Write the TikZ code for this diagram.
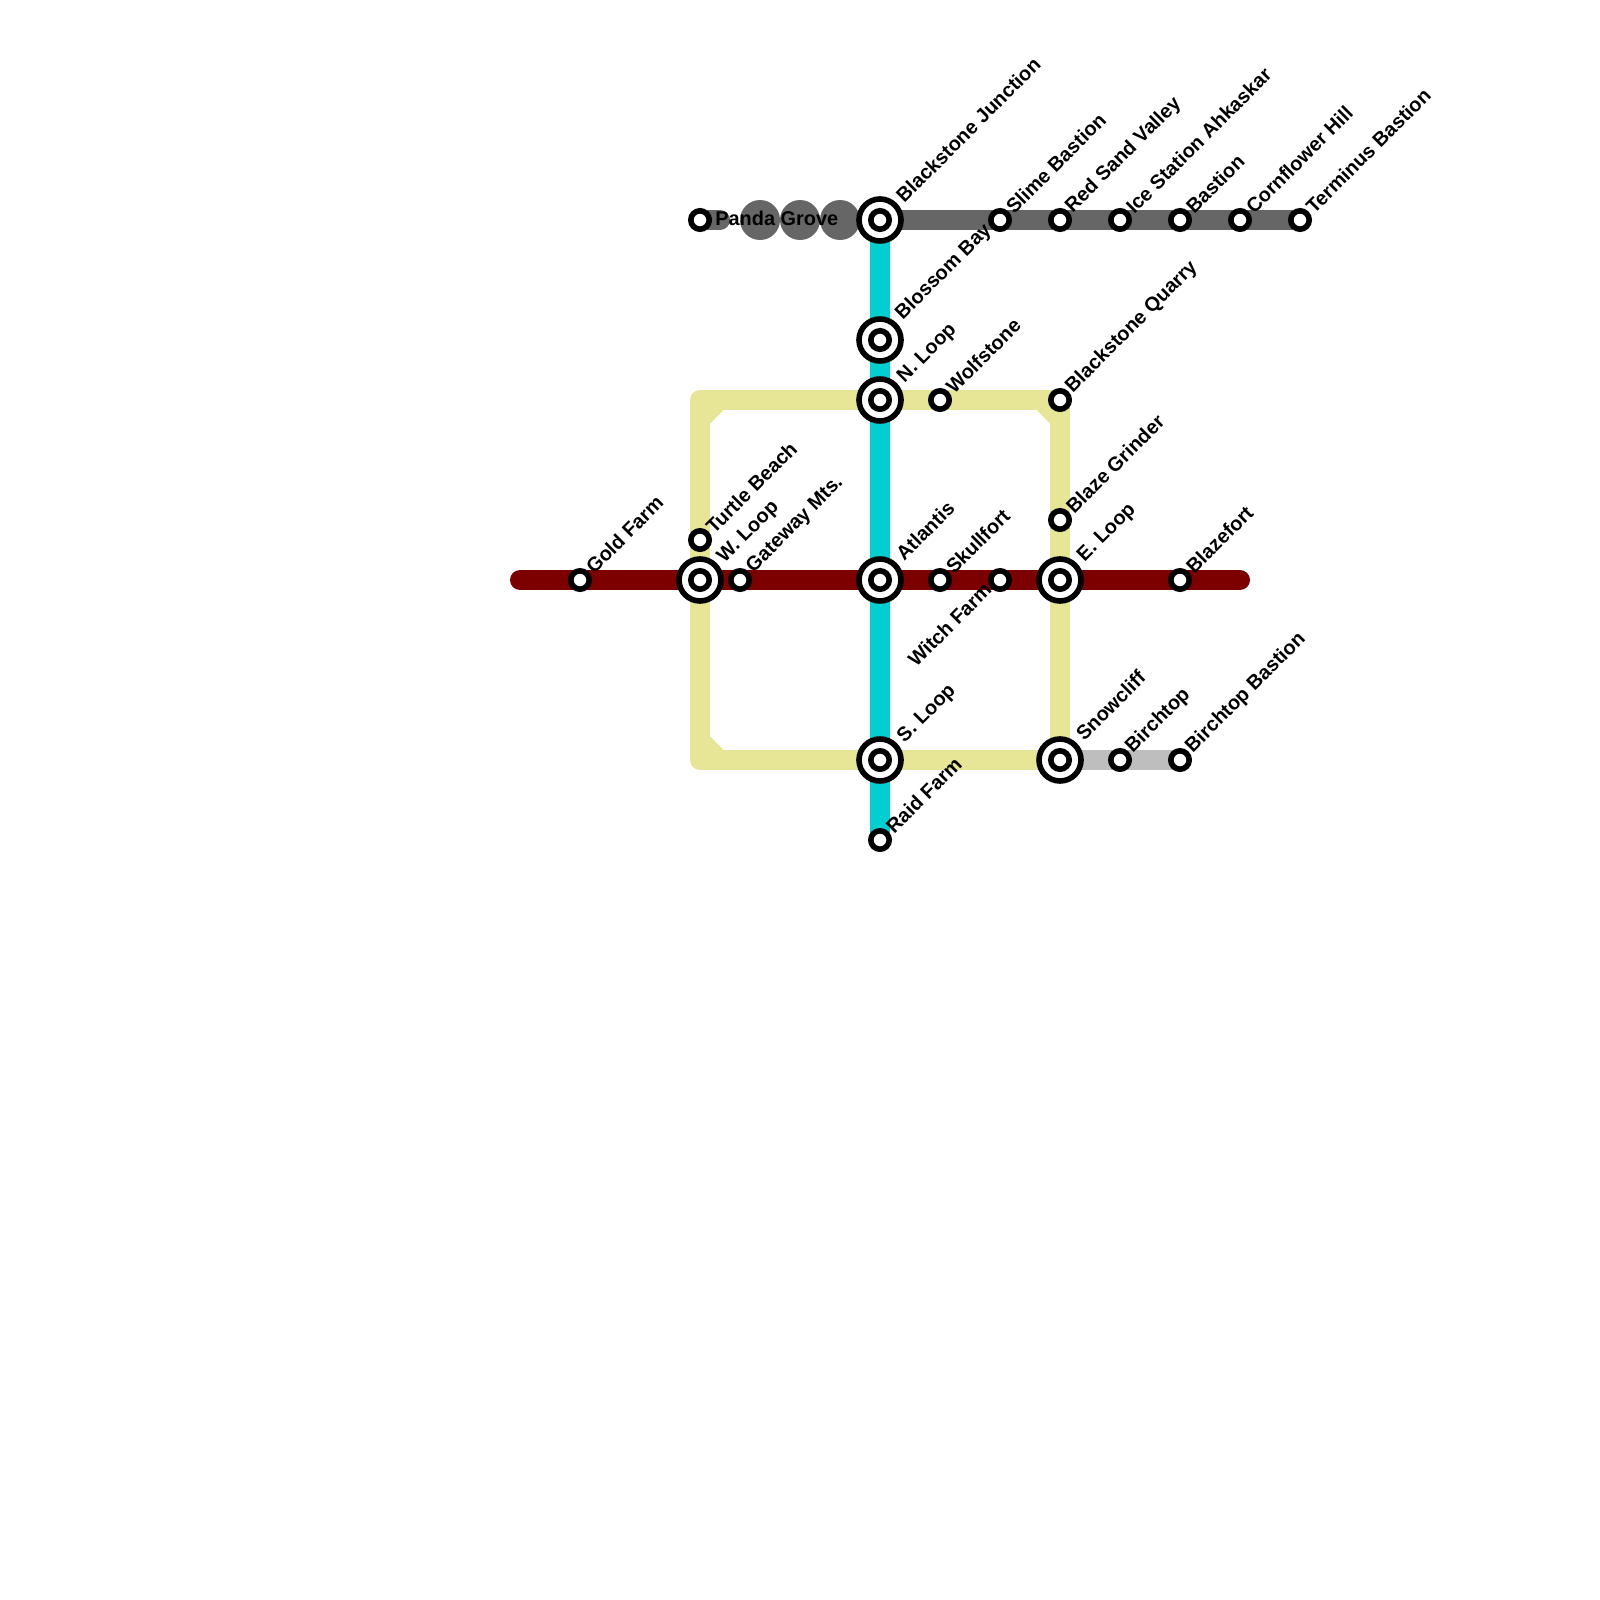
\documentclass[tikz,border=0pt]{standalone}
\usepackage{fontspec}
\setmainfont{Liberation Sans}
\definecolor{lgray}{HTML}{666666}
\definecolor{lteal}{HTML}{00CED1}
\definecolor{lred}{HTML}{7D0000}
\definecolor{lkhaki}{HTML}{E6E696}
\definecolor{lsilver}{HTML}{BEBEBE}
\tikzset{
 x=0.5pt,y=-0.5pt,
 metro/.style={line width=10pt,line cap=butt},
 small/.style={circle,draw=black,fill=white,line width=2.8pt,minimum size=9.2pt,inner sep=0pt},
 big/.style={circle,draw=black,fill=white,line width=2.8pt,minimum size=21pt,inner sep=0pt},
 lab/.style={rotate=45,anchor=west,inner sep=0pt,font=\fontsize{9.95}{11}\selectfont\bfseries},
 dot/.style={circle,fill=lgray,minimum size=20pt,inner sep=0pt},
}
\begin{document}
\begin{tikzpicture}
\useasboundingbox (0,0) rectangle (1600,1600);
\fill[white] (0,0) rectangle (1600,1600);
% coordinates
\foreach \n/\x/\y in {pa/700/220,bj/880/220,sb/1000/220,rs/1060/220,ic/1120/220,ba/1180/220,co/1240/220,te/1300/220,
 bl/880/340,nl/880/400,wo/940/400,bq/1060/400,tb/700/540,wl/700/580,gf/580/580,gm/740/580,at/880/580,sk/940/580,wf/1000/580,el/1060/580,bg/1060/520,bz/1180/580,
 sl/880/760,sn/1060/760,bi/1120/760,bb/1180/760,rf/880/840,
 rw/520/580,re/1240/580,gs/720/220,cnw/700/400,cne/1060/400,csw/700/760}
 {\coordinate (\n) at (\x,\y);}
% gray stub and dots
\draw[metro,lgray,line cap=round] (pa) -- (gs);
\node[dot] (d1) at (760,220) {};
\node[dot] (d2) at (800,220) {};
\node[dot] (d3) at (840,220) {};
\draw[metro,lgray] (bj) -- (te);
% khaki loop
\draw[metro,lkhaki,line join=round] (cnw) -- (cne) -- (sn) -- (csw) -- cycle;
\fill[lkhaki] (709,409) -- (723.5,410) -- (710,423.5) -- cycle;
\fill[lkhaki] (709,751) -- (723.5,750) -- (710,736.5) -- cycle;
\fill[lkhaki] (1051,409) -- (1036.5,410) -- (1050,423.5) -- cycle;
% silver
\draw[metro,lsilver] (sn) -- (bb);
% teal
\draw[metro,lteal] (bj) -- (rf);
% red
\draw[metro,lred,line cap=round] (rw) -- (re);
% stations
\foreach \n/\x/\y in {bj/880/220,bl/880/340,nl/880/400,wl/700/580,at/880/580,el/1060/580,sl/880/760,sn/1060/760}
 {\node[big] (S\n) at (\n) {};\node[small] (I\n) at (\n) {};}
\foreach \n in {pa,sb,rs,ic,ba,co,te,wo,bq,tb,gf,gm,sk,wf,bg,bz,bi,bb,rf}
 {\node[small] (S\n) at (\n) {};}
% labels
\foreach \n/\t/\dx/\dy in {
 bj/Blackstone Junction/19/-21,
 bl/Blossom Bay/19/-23,
 nl/N. Loop/21/-20,
 at/Atlantis/19/-23,
 sl/S. Loop/21/-20,
 wl/W. Loop/21/-20,
 el/E. Loop/21/-21,
 sn/Snowcliff/19/-23,
 sb/Slime Bastion/9/-10,
 rs/Red Sand Valley/9/-10,
 ic/Ice Station Ahkaskar/9/-10,
 ba/Bastion/9/-10,
 co/Cornflower Hill/9/-10,
 te/Terminus Bastion/9/-10,
 wo/Wolfstone/9/-10,
 bq/Blackstone Quarry/9/-10,
 bg/Blaze Grinder/9/-10,
 tb/Turtle Beach/9/-10,
 gf/Gold Farm/9/-10,
 gm/Gateway Mts./10/-10,
 sk/Skullfort/9/-10,
 bz/Blazefort/9/-10,
 bi/Birchtop/9/-10,
 bb/Birchtop Bastion/9/-10,
 rf/Raid Farm/9/-10}
 {\node[lab] (L\n) at ([shift={(\dx,\dy)}]\n) {\t};}
\node[lab,anchor=east] (Lwf) at ([shift={(-12,6)}]wf) {Witch Farm};
\node[lab,rotate=-45,anchor=west] (Lpa) at ([shift={(15,-2)}]pa) {Panda Grove};
\end{tikzpicture}
\end{document}
